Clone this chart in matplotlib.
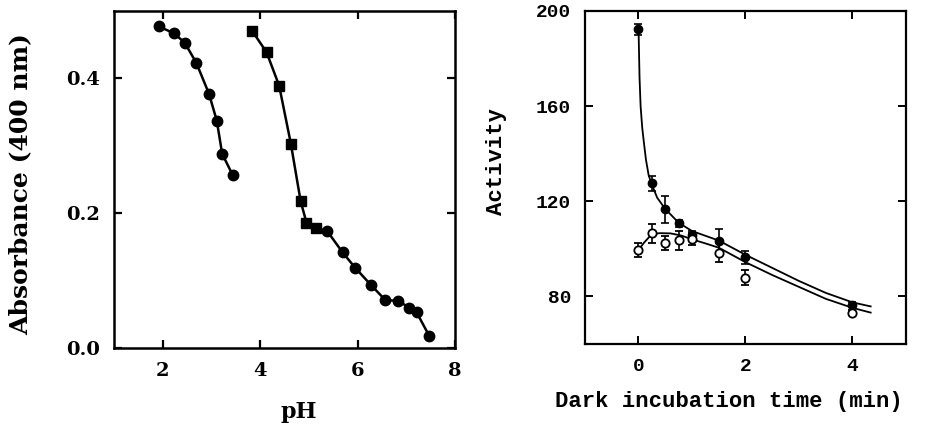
import matplotlib
matplotlib.use("Agg")
import matplotlib.pyplot as plt

# ---- Left panel data: absorbance vs pH ----
ph_a = [1.92, 2.23, 2.45, 2.69, 2.95, 3.11, 3.22, 3.44]
abs_a = [0.477, 0.467, 0.453, 0.423, 0.377, 0.337, 0.288, 0.256]

ph_b = [3.83, 4.13, 4.39, 4.63, 4.83, 4.95, 5.15, 5.38, 5.69, 5.95, 6.28,
        6.57, 6.83, 7.06, 7.21, 7.47]
abs_b = [0.471, 0.439, 0.389, 0.303, 0.218, 0.186, 0.178, 0.173, 0.142,
         0.119, 0.093, 0.071, 0.070, 0.060, 0.053, 0.018]
n_square_b = 7  # first points of series b drawn as squares

# ---- Right panel data: activity vs dark incubation time ----
t = [0, 0.25, 0.5, 0.75, 1.0, 1.5, 2.0, 4.0]
act_filled = [192.4, 127.5, 116.6, 110.7, 106.0, 103.3, 96.5, 76.6]
err_filled = [2.3, 3.0, 5.6, 1.5, 1.5, 5.0, 2.7, 1.0]
act_open = [99.5, 106.5, 102.6, 103.7, 104.0, 98.4, 87.9, 73.1]
err_open = [3.0, 4.0, 3.0, 4.0, 2.5, 3.9, 3.0, 1.0]

# fitted curves
fit_filled_t = [0.0, 0.02, 0.04, 0.07, 0.1, 0.14, 0.19, 0.25, 0.35, 0.5, 0.75,
                1.0, 1.5, 2.0, 2.5, 3.0, 3.5, 4.0, 4.34]
fit_filled_y = [194.0, 172.0, 160.0, 151.0, 145.0, 137.5, 131.0, 127.0, 121.5,
                116.8, 111.0, 107.5, 103.5, 97.5, 92.0, 86.5, 81.5, 77.5, 75.8]
fit_open_t = [0.0, 0.1, 0.25, 0.4, 0.6, 0.8, 1.0, 1.25, 1.5, 2.0, 2.5, 3.0,
              3.5, 4.0, 4.34]
fit_open_y = [99.5, 102.5, 106.2, 106.6, 106.5, 105.6, 104.0, 102.3, 100.5,
              94.4, 89.0, 84.0, 79.0, 75.2, 73.2]

fig = plt.figure(figsize=(9.4, 4.26), dpi=100)

serif = {"family": "DejaVu Serif", "weight": "bold"}
mono = {"family": "Liberation Mono", "weight": "bold"}

# ---------- Left axes ----------
ax1 = fig.add_axes([0.1213, 0.1831, 0.3628, 0.7911])
ax1.plot(ph_a, abs_a, color="black", lw=1.8, marker="o", ms=7.5,
         mfc="black", mec="black")
ax1.plot(ph_b, abs_b, color="black", lw=1.8)
ax1.plot(ph_b[:n_square_b], abs_b[:n_square_b], ls="none", marker="s",
         ms=6.5, color="black")
ax1.plot(ph_b[n_square_b:], abs_b[n_square_b:], ls="none", marker="o",
         ms=7.5, color="black")
ax1.set_xlim(1, 8)
ax1.set_ylim(0, 0.5)
ax1.set_xticks([2, 4, 6, 8])
ax1.set_yticks([0.0, 0.2, 0.4])
ax1.set_yticklabels(["0.0", "0.2", "0.4"])
ax1.tick_params(direction="in", top=True, right=True, length=6, width=1.6,
                labelsize=14, pad=10)
for lab in ax1.get_xticklabels() + ax1.get_yticklabels():
    lab.set_fontfamily(serif["family"])
    lab.set_fontweight("bold")
for sp in ax1.spines.values():
    sp.set_linewidth(1.8)
ax1.set_xlabel("pH", fontsize=16, **serif)
ax1.xaxis.set_label_coords(0.543, -0.157)
ax1.set_ylabel("Absorbance (400 nm)", fontsize=18, **serif)
ax1.yaxis.set_label_coords(-0.24, 0.486)

# ---------- Right axes ----------
ax2 = fig.add_axes([0.6223, 0.1925, 0.3415, 0.7817])
ax2.plot(fit_filled_t, fit_filled_y, color="black", lw=1.3)
ax2.plot(fit_open_t, fit_open_y, color="black", lw=1.3)
ax2.errorbar(t, act_filled, yerr=err_filled, fmt="o", ms=6, color="black",
             mfc="black", mec="black", ecolor="black", elinewidth=1.2,
             capsize=3, capthick=1.2)
ax2.errorbar(t, act_open, yerr=err_open, fmt="o", ms=6, color="black",
             mfc="white", mec="black", mew=1.3, ecolor="black",
             elinewidth=1.2, capsize=3, capthick=1.2)
ax2.set_xlim(-1, 5)
ax2.set_ylim(60, 200)
ax2.set_xticks([0, 2, 4])
ax2.set_yticks([80, 120, 160, 200])
ax2.tick_params(direction="in", top=True, right=True, length=6, width=1.4,
                labelsize=14, pad=10)
for lab in ax2.get_xticklabels() + ax2.get_yticklabels():
    lab.set_fontfamily(mono["family"])
    lab.set_fontweight("bold")
for sp in ax2.spines.values():
    sp.set_linewidth(1.6)
ax2.set_xlabel("Dark incubation time (min)", fontsize=16, **mono)
ax2.xaxis.set_label_coords(0.449, -0.142)
ax2.set_ylabel("Activity", fontsize=16, **mono)
ax2.yaxis.set_label_coords(-0.243, 0.547)

fig.savefig("out.png", dpi=100, facecolor="white")
